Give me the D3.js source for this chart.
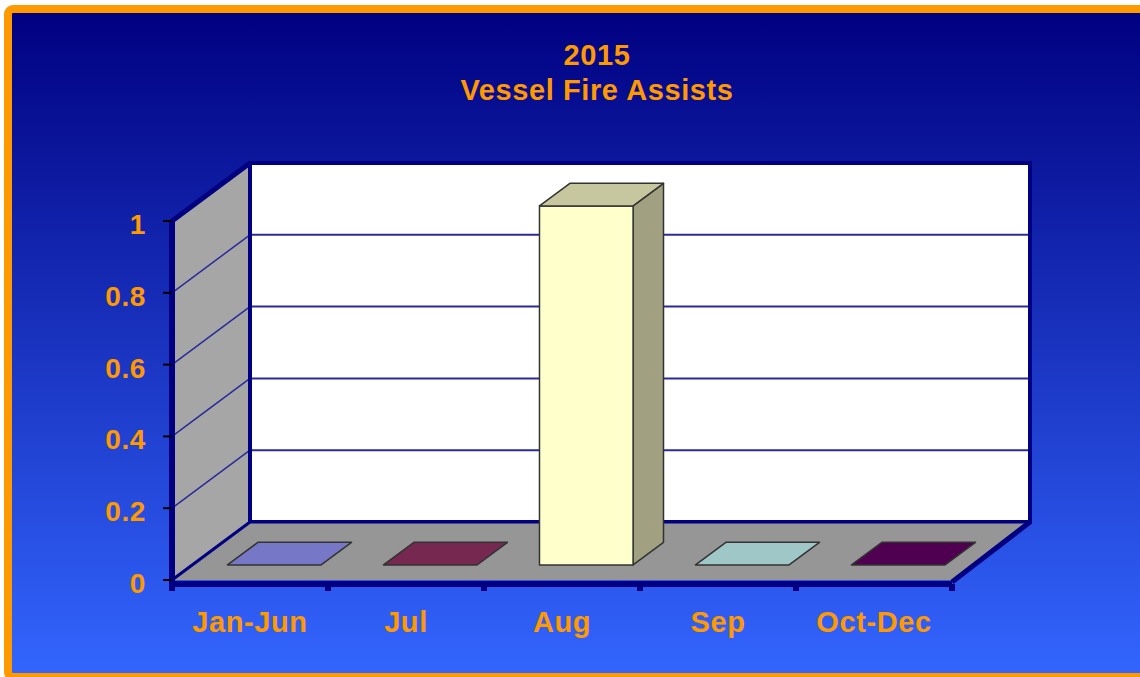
<!DOCTYPE html>
<html>
<head>
	<title>2015 Vessel Fire Assists</title>
	<script src="https://d3js.org/d3.v7.min.js"></script>
	<style type="text/css">
		body{ margin: 0; overflow: hidden; }
		text{ font-family: "Liberation Sans", Arial, sans-serif; font-weight: bold; fill: #FF9900; letter-spacing: 0.6px; }
	</style>
</head>
<body>
<script type="text/javascript">
	// data
	var categories = ["Jan-Jun", "Jul", "Aug", "Sep", "Oct-Dec"]
	var values = [0, 0, 1, 0, 0]
	var barColors = ["#9999FF", "#993366", "#FFFFCC", "#CCFFFF", "#660066"]
	var yTicks = [0, 0.2, 0.4, 0.6, 0.8, 1]
	var titleLines = ["2015", "Vessel Fire Assists"]

	var W = 1140, H = 677
	var depthX = 78, depthY = 58     // offset of the back plane
	var barD0 = 0.26, barD1 = 0.65   // depth of bars inside the floor
	var barShift = 4

	var svg = d3.select("body").append("svg").attr("width", W).attr("height", H)
	var defs = svg.append("defs")

	var grad = defs.append("linearGradient").attr("id", "bg").attr("x1", 0).attr("y1", 0).attr("x2", 0).attr("y2", 1)
	grad.append("stop").attr("offset", "0%").attr("stop-color", "#000080")
	grad.append("stop").attr("offset", "100%").attr("stop-color", "#3366FF")

	svg.append("rect").attr("x", 0).attr("y", 0).attr("width", W).attr("height", H).attr("fill", "#fff")
	svg.append("rect").attr("x", 8).attr("y", 9).attr("width", W + 20).attr("height", 668).attr("rx", 5)
		.attr("fill", "url(#bg)").attr("stroke", "#FF9900").attr("stroke-width", 8)

	// scales
	var x = d3.scaleBand().domain(categories).range([172, 952]).paddingInner(0.4).paddingOuter(0.2)
	var xEdge = d3.scaleBand().domain(categories).range([172, 952])
	var y = d3.scaleLinear().domain([0, 1]).range([580, 221])

	function P(px, py, d){ return [px + d * depthX, py - d * depthY] }
	function poly(pts){ return "M" + pts.map(function(p){ return p.join(",") }).join("L") + "Z" }

	var x0 = xEdge.range()[0], x1 = xEdge.range()[1]
	var navy = "#000080"

	// back wall
	var bw = [P(x0, y(1), 1), P(x1, y(1), 1), P(x1, y(0), 1), P(x0, y(0), 1)]
	svg.append("path").attr("d", poly(bw)).attr("fill", "#fff")

	// side wall
	svg.append("path").attr("d", poly([P(x0, y(0), 0), P(x0, y(1), 0), P(x0, y(1), 1), P(x0, y(0), 1)]))
		.attr("fill", "#A6A6A6")

	// gridlines
	var inner = yTicks.filter(function(t){ return t > 0 && t < 1 })
	svg.selectAll(".gb").data(inner).enter().append("line")
		.attr("x1", x0 + depthX).attr("x2", x1 + depthX)
		.attr("y1", function(t){ return y(t) - depthY }).attr("y2", function(t){ return y(t) - depthY })
		.attr("stroke", "#2A2A9A").attr("stroke-width", 2)
	svg.selectAll(".gs").data(inner).enter().append("line")
		.attr("x1", x0).attr("y1", function(t){ return y(t) })
		.attr("x2", x0 + depthX).attr("y2", function(t){ return y(t) - depthY })
		.attr("stroke", "#2A2A9A").attr("stroke-width", 1.5)

	// wall outlines
	svg.append("path").attr("d", poly(bw)).attr("fill", "none").attr("stroke", navy).attr("stroke-width", 4)
	svg.append("line").attr("x1", x0).attr("y1", y(1)).attr("x2", x0 + depthX).attr("y2", y(1) - depthY)
		.attr("stroke", navy).attr("stroke-width", 5)

	// floor
	var fl = [P(x0, y(0), 0), P(x1, y(0), 0), P(x1, y(0), 1), P(x0, y(0), 1)]
	svg.append("path").attr("d", poly(fl)).attr("fill", "#969696")
	svg.append("line").attr("x1", x0).attr("y1", y(0)).attr("x2", x0 + depthX).attr("y2", y(0) - depthY)
		.attr("stroke", navy).attr("stroke-width", 3)
	svg.append("line").attr("x1", x0 + depthX).attr("y1", y(0) - depthY).attr("x2", x1 + depthX).attr("y2", y(0) - depthY)
		.attr("stroke", navy).attr("stroke-width", 3)
	svg.append("line").attr("x1", x1).attr("y1", y(0) + 2).attr("x2", x1 + depthX).attr("y2", y(0) - depthY)
		.attr("stroke", navy).attr("stroke-width", 5)

	// bars
	function shade(c, k){
		var r = d3.rgb(c)
		return d3.rgb(r.r * k, r.g * k, r.b * k).formatHex()
	}
	var bars = svg.append("g")
	categories.forEach(function(c, i){
		var bx0 = x(c) + barShift, bx1 = bx0 + x.bandwidth()
		var top = y(values[i]), base = y(0)
		var col = barColors[i]
		var g = bars.append("g").attr("stroke", "#333").attr("stroke-width", 1.5).attr("stroke-linejoin", "round")
		if(values[i] > 0){
			g.append("path").attr("d", poly([P(bx1, base, barD0), P(bx1, base, barD1), P(bx1, top, barD1), P(bx1, top, barD0)]))
				.attr("fill", shade(col, 0.63))
			g.append("path").attr("d", poly([P(bx0, base, barD0), P(bx1, base, barD0), P(bx1, top, barD0), P(bx0, top, barD0)]))
				.attr("fill", col)
		}
		g.append("path").attr("d", poly([P(bx0, top, barD0), P(bx1, top, barD0), P(bx1, top, barD1), P(bx0, top, barD1)]))
			.attr("fill", shade(col, 0.78))
	})

	// value axis
	svg.append("line").attr("x1", x0).attr("x2", x0).attr("y1", y(1)).attr("y2", y(0) + 4)
		.attr("stroke", navy).attr("stroke-width", 6)
	svg.selectAll(".yt").data(yTicks).enter().append("line")
		.attr("x1", x0 - 9).attr("x2", x0).attr("y1", function(t){ return y(t) }).attr("y2", function(t){ return y(t) })
		.attr("stroke", "#000").attr("stroke-width", 2)
	svg.selectAll(".yl").data(yTicks).enter().append("text")
		.attr("x", 146).attr("y", function(t){ return y(t) + 13 })
		.attr("text-anchor", "end").attr("font-size", 28)
		.text(function(t){ return d3.format("~g")(t) })

	// category axis
	svg.append("line").attr("x1", x0 - 3).attr("x2", x1).attr("y1", y(0) + 4).attr("y2", y(0) + 4)
		.attr("stroke", navy).attr("stroke-width", 6)
	var edges = categories.map(function(c){ return xEdge(c) }).concat([x1])
	svg.selectAll(".xt").data(edges).enter().append("rect")
		.attr("x", function(e){ return e - 3 }).attr("y", y(0) + 4).attr("width", 6).attr("height", 7)
		.attr("fill", navy)
	svg.selectAll(".xl").data(categories).enter().append("text")
		.attr("x", function(c){ return xEdge(c) + xEdge.bandwidth() / 2 }).attr("y", 632)
		.attr("text-anchor", "middle").attr("font-size", 29)
		.text(function(c){ return c })

	// title
	svg.selectAll(".title").data(titleLines).enter().append("text")
		.attr("x", 597).attr("y", function(d, i){ return 65 + i * 35 })
		.attr("text-anchor", "middle").attr("font-size", 29)
		.text(function(d){ return d })
</script>
</body>
</html>
